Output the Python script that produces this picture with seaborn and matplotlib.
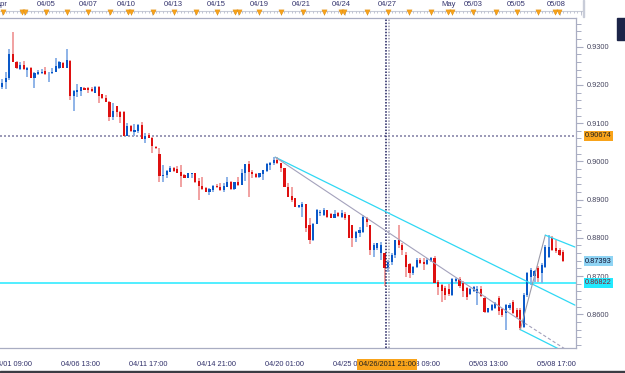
import numpy as np
import pandas as pd
import matplotlib
matplotlib.use("Agg")
import matplotlib.pyplot as plt
import seaborn as sns

# EUR/CHF-like 4h bars
opens = [
    .9195, .9208, .9218, .9281, .9260, .9242, .9252, .9239, .9244, .9218,
    .9229, .9231, .9236, .9231, .9231, .9234, .9244, .9257, .9244, .9263,
    .9171, .9182, .9184, .9192, .9192, .9189, .9179, .9195, .9176, .9166,
    .9155, .9116, .9145, .9129, .9129, .9066, .9093, .9077, .9080, .9095,
    .9059, .9069, .9061, .9038, .9019, .8962, .8964, .8972, .8983, .8980,
    .8972, .8964, .8957, .8967, .8970, .8949, .8936, .8930, .8920, .8925,
    .8936, .8933, .8925, .8933, .8946, .8928, .8946, .8938, .8970, .8993,
    .8972, .8967, .8959, .8967, .8975, .8991, .8996, .9004, .8996, .8983,
    .8933, .8910, .8904, .8881, .8881, .8889, .8834, .8794, .8836, .8865,
    .8860, .8873, .8862, .8852, .8865, .8855, .8862, .8860, .8834, .8800,
    .8813, .8815, .8852, .8834, .8768, .8773, .8760, .8760, .8721, .8737,
    .8755, .8794, .8781, .8755, .8732, .8708, .8724, .8742, .8737, .8731,
    .8739, .8747, .8685, .8677, .8669, .8666, .8651, .8687, .8692, .8682,
    .8669, .8653, .8661, .8656, .8666, .8643, .8606, .8611, .8616, .8643,
    .8614, .8603, .8616, .8632, .8611, .8611, .8567, .8651, .8698, .8700,
    .8721, .8708, .8724, .8750, .8800, .8773, .8768, .8763,
]
highs = [
    .9216, .9234, .9294, .9338, .9263, .9260, .9263, .9247, .9247, .9234,
    .9239, .9242, .9247, .9234, .9244, .9271, .9263, .9260, .9294, .9265,
    .9187, .9202, .9195, .9195, .9195, .9195, .9197, .9197, .9176, .9174,
    .9158, .9153, .9145, .9132, .9132, .9100, .9095, .9098, .9098, .9103,
    .9074, .9074, .9064, .9040, .9035, .8991, .8978, .8988, .8985, .8988,
    .8991, .8967, .8970, .8970, .8970, .8957, .8959, .8933, .8930, .8938,
    .8941, .8944, .8944, .8959, .8949, .8946, .8959, .8980, .8993, .9001,
    .8978, .8970, .8970, .8978, .8996, .8998, .9011, .9011, .8996, .8983,
    .8944, .8933, .8904, .8886, .8894, .8889, .8852, .8839, .8875, .8873,
    .8878, .8873, .8865, .8873, .8868, .8873, .8868, .8860, .8834, .8818,
    .8828, .8860, .8855, .8834, .8786, .8786, .8789, .8760, .8742, .8760,
    .8794, .8834, .8786, .8763, .8734, .8726, .8747, .8747, .8747, .8747,
    .8750, .8752, .8690, .8680, .8674, .8679, .8695, .8695, .8697, .8687,
    .8672, .8669, .8674, .8674, .8674, .8648, .8616, .8627, .8632, .8648,
    .8616, .8627, .8629, .8637, .8616, .8616, .8656, .8711, .8721, .8716,
    .8726, .8734, .8780, .8807, .8805, .8794, .8773, .8768,
]
lows = [
    .9189, .9189, .9213, .9260, .9242, .9239, .9239, .9221, .9218, .9192,
    .9226, .9229, .9226, .9208, .9229, .9234, .9242, .9244, .9244, .9161,
    .9132, .9168, .9171, .9187, .9179, .9182, .9179, .9153, .9163, .9155,
    .9106, .9108, .9116, .9100, .9066, .9066, .9077, .9066, .9074, .9059,
    .9048, .9061, .9022, .9032, .8946, .8946, .8957, .8972, .8972, .8970,
    .8933, .8957, .8957, .8957, .8944, .8899, .8925, .8920, .8912, .8920,
    .8930, .8923, .8920, .8933, .8925, .8925, .8936, .8938, .8949, .8907,
    .8957, .8957, .8957, .8951, .8972, .8978, .8991, .8993, .8972, .8933,
    .8907, .8894, .8881, .8878, .8855, .8815, .8784, .8792, .8836, .8857,
    .8857, .8852, .8852, .8852, .8855, .8852, .8847, .8800, .8776, .8789,
    .8802, .8813, .8828, .8755, .8750, .8768, .8742, .8674, .8711, .8729,
    .8747, .8773, .8755, .8698, .8695, .8703, .8721, .8731, .8716, .8729,
    .8737, .8682, .8651, .8632, .8637, .8648, .8648, .8682, .8669, .8645,
    .8637, .8651, .8659, .8624, .8645, .8603, .8603, .8608, .8614, .8598,
    .8593, .8559, .8611, .8601, .8590, .8559, .8564, .8645, .8677, .8685,
    .8685, .8682, .8721, .8747, .8766, .8760, .8752, .8737,
]
closes = [
    .9205, .9218, .9281, .9260, .9244, .9252, .9242, .9244, .9218, .9231,
    .9234, .9234, .9229, .9232, .9234, .9250, .9260, .9244, .9265, .9171,
    .9184, .9187, .9195, .9187, .9187, .9184, .9195, .9171, .9166, .9155,
    .9116, .9132, .9129, .9116, .9066, .9093, .9080, .9082, .9095, .9059,
    .9066, .9061, .9040, .9035, .8962, .8964, .8975, .8983, .8975, .8970,
    .8962, .8957, .8970, .8969, .8946, .8936, .8928, .8920, .8928, .8936,
    .8933, .8925, .8936, .8946, .8928, .8946, .8938, .8970, .8993, .8972,
    .8967, .8959, .8970, .8978, .8993, .8996, .9004, .8996, .8983, .8933,
    .8907, .8899, .8881, .8886, .8889, .8826, .8794, .8836, .8873, .8868,
    .8873, .8855, .8852, .8862, .8857, .8865, .8852, .8800, .8800, .8815,
    .8820, .8855, .8841, .8768, .8781, .8786, .8781, .8721, .8737, .8755,
    .8794, .8781, .8768, .8724, .8708, .8724, .8742, .8734, .8731, .8742,
    .8747, .8682, .8672, .8661, .8650, .8653, .8693, .8692, .8674, .8661,
    .8645, .8666, .8672, .8666, .8648, .8606, .8616, .8624, .8629, .8608,
    .8598, .8624, .8624, .8603, .8593, .8564, .8651, .8708, .8716, .8714,
    .8695, .8729, .8776, .8776, .8768, .8766, .8755, .87393,
]

# axis labels
bottom_ticks = [3, 22, 41, 60, 79, 98, 117, 136, 155]
bottom_labels = ["04/01 09:00", "04/06 13:00", "04/11 17:00", "04/14 21:00",
                 "04/20 01:00", "04/25 05:00", "04/28 09:00", "05/03 13:00",
                 "05/08 17:00"]
top_dates = ["Apr", "04/05", "04/07", "04/10", "04/13", "04/15", "04/19",
             "04/21", "04/24", "04/27", "May", "05/03", "05/05", "05/08"]
top_date_pos = [0.2, 12.2, 24.1, 34.8, 47.9, 59.8, 71.9, 83.8, 94.8, 107.9,
                124.9, 131.9, 144.0, 155.2]
event_bars = [0.1, 5.4, 6.4, 12.2, 18.0, 24.1, 30.2, 35.3, 36.0, 42.3, 48.1,
              54.1, 60.0, 65.2, 66.2, 71.9, 78.0, 84.1, 90.1, 94.8, 95.7,
              102.0, 107.9, 113.9, 119.9, 124.9, 125.8, 131.9, 138.1, 144.0,
              149.9, 154.7, 155.9]
price_ticks = [0.86, 0.87, 0.88, 0.89, 0.90, 0.91, 0.92, 0.93]

# drawn objects
hline_level = 0.90674
support_level = 0.86822
last_price = 0.87393
vline_bar = 107.7
vline_label = "04/26/2011 21:00"
trend_bars = [76.4, 160.3]
trend_prices = [0.9011, 0.8624]
gray_bars = [76.4, 144.9]
gray_prices = [0.9011, 0.8585]
gray_dash_bars = [144.9, 158.9]
gray_dash_prices = [0.8585, 0.8501]
fib_bars = [145.0, 152.0]
fib_prices = [0.8559, 0.8807]
chan_top_bars = [152.0, 160.3]
chan_top_prices = [0.8807, 0.8776]
chan_low_bars = [145.2, 160.3]
chan_low_prices = [0.8559, 0.8488]

df = pd.DataFrame({"open": opens, "high": highs, "low": lows, "close": closes})
df["bar"] = np.arange(len(df))
df["up"] = df["close"] >= df["open"]

sns.set_theme(style="white")
plt.rcParams["font.family"] = ["Liberation Sans", "DejaVu Sans"]

W, H = 625, 373
fig = plt.figure(figsize=(W / 100, H / 100), dpi=100)
fig.patch.set_facecolor("white")

x0, x1 = -0.638, 160.6
ax = fig.add_axes([0, (H - 348) / H, 576 / W, 330 / H])
ax.set_xlim(x0, x1)
ax.set_ylim(0.85118, 0.93751)
ax.set_facecolor("white")

RED, RED_W = "#de1010", "#f09a9a"
BLUE, BLUE_W = "#0a58c8", "#86aee6"

up = df[df["up"]]
dn = df[~df["up"]]
ax.vlines(up["bar"], up["low"], up["high"], color=BLUE_W, lw=1.3, zorder=3)
ax.vlines(dn["bar"], dn["low"], dn["high"], color=RED_W, lw=1.3, zorder=3)
body_up = np.maximum(up["close"] - up["open"], 0.00012)
body_dn = np.maximum(dn["open"] - dn["close"], 0.00012)
ax.bar(up["bar"], body_up, bottom=up["open"], width=0.6, color=BLUE,
       linewidth=0, zorder=4)
ax.bar(dn["bar"], body_dn, bottom=dn["close"], width=0.6, color=RED,
       linewidth=0, zorder=4)

# horizontal / vertical markers
ax.axhline(hline_level, color="#8a88aa", lw=1.2, ls=(0, (1.2, 1.2)), zorder=2)
ax.axhline(support_level, color="#22eaff", lw=1.1, zorder=2)
ax.axvline(vline_bar - 0.3, color="#1c1c5c", lw=1.1, ls=(0, (1, 1)), zorder=5)
ax.axvline(vline_bar + 0.5, color="#9a9ab0", lw=1.1, ls=(0, (1, 1)), zorder=5)

# trend lines
cyan = "#2fd8f4"
sns.lineplot(x=trend_bars, y=trend_prices, ax=ax, color=cyan, lw=0.9, zorder=6)
sns.lineplot(x=gray_bars, y=gray_prices, ax=ax, color="#a4a2bc", lw=0.8, zorder=6)
sns.lineplot(x=gray_dash_bars, y=gray_dash_prices, ax=ax, color="#a4a2bc",
             lw=0.8, ls=(0, (3, 2)), zorder=6)
sns.lineplot(x=fib_bars, y=fib_prices, ax=ax, color="#9a9aa8", lw=0.8, zorder=6)
sns.lineplot(x=chan_top_bars, y=chan_top_prices, ax=ax, color=cyan, lw=0.9, zorder=6)
sns.lineplot(x=chan_low_bars, y=chan_low_prices, ax=ax, color=cyan, lw=0.9, zorder=6)

# spines and ticks
frame = "#a9adc2"
ax.spines["left"].set_visible(False)
for s in ["top", "right", "bottom"]:
    ax.spines[s].set_color(frame)
    ax.spines[s].set_linewidth(0.9)
ax.yaxis.tick_right()
ax.set_yticks(price_ticks)
ax.set_yticklabels([f"{p:.4f}" for p in price_ticks])
ax.set_yticks(np.arange(0.852, 0.9375, 0.002), minor=True)
ax.tick_params(axis="y", which="major", direction="out", length=5, width=0.8,
               color=frame, pad=2.5, labelsize=5.3, labelcolor="#45455e")
ax.tick_params(axis="y", which="minor", direction="out", length=3.5, width=0.7,
               color=frame)
ax.set_xticks(bottom_ticks)
ax.set_xticklabels(bottom_labels)
ax.set_xticks(np.arange(3, 161, 19 / 6), minor=True)
ax.tick_params(axis="x", which="major", direction="out", length=6, width=0.8,
               color=frame, pad=3.5, labelsize=5.3, labelcolor="#30306a")
ax.tick_params(axis="x", which="minor", direction="out", length=3, width=0.7,
               color=frame)
ax.set_xlabel("")
ax.set_ylabel("")

# price boxes on the right scale
ytr = ax.get_yaxis_transform()
box_x = 1 + 9 / 576
ax.text(box_x, hline_level, f"{hline_level:.5f}", transform=ytr, ha="left",
        va="center", fontsize=5.3, color="#202020", clip_on=False, zorder=10,
        bbox=dict(boxstyle="square,pad=0.2", fc="#f8a31a", ec="none"))
ax.text(box_x, last_price, f"{last_price:.5f}", transform=ytr, ha="left",
        va="center", fontsize=5.3, color="#101030", clip_on=False, zorder=10,
        bbox=dict(boxstyle="square,pad=0.2", fc="#8fd4f4", ec="none"))
ax.text(box_x, support_level, f"{support_level:.5f}", transform=ytr, ha="left",
        va="center", fontsize=5.3, color="#8a1a2a", clip_on=False, zorder=10,
        bbox=dict(boxstyle="square,pad=0.2", fc="#22eaff", ec="none"))

# time label of the vertical line
xtr = ax.get_xaxis_transform()
ax.text(vline_bar, -16.5 / 330, vline_label, transform=xtr, ha="center",
        va="center", fontsize=5.3, color="#202020", clip_on=False, zorder=10,
        bbox=dict(boxstyle="square,pad=0.25", fc="#f8a31a", ec="none"))

# top strip with dates and event flags
axt = fig.add_axes([0, (H - 17) / H, 583 / W, 17 / H])
axt.set_xlim(x0, (583 - 2.28) / 3.572)
axt.set_ylim(17, 0)
axt.axis("off")
axt.axhline(10.5, color="#c8ccd8", lw=0.8)
axt.vlines(np.arange(0, 163), 10.5, 13, color="#b8bccc", lw=0.6)
axt.vlines(np.arange(0, 163, 6), 10.5, 14.5, color="#b8bccc", lw=0.6)
sns.scatterplot(x=event_bars, y=[12.2] * len(event_bars), ax=axt, marker="v",
                s=14, color="#f7a21b", edgecolor="#e08a00", linewidth=0.3,
                zorder=5, legend=False)
for lab, pos in zip(top_dates, top_date_pos):
    ha = "right" if lab == "Apr" else "center"
    xx = pos + 1.5 if lab == "Apr" else pos
    axt.text(xx, 5, lab, ha=ha, va="center", fontsize=5.5, color="#34346e")

# window chrome bits
fig.patches.append(plt.Rectangle((583 / W, 18 / H * 0 + (H - 17) / H), 0.8 / W, 17 / H,
                                 transform=fig.transFigure, color="#c8ccd8"))
fig.patches.append(plt.Rectangle((0, 0), 1, 1.6 / H, transform=fig.transFigure,
                                 color="#3c3c44"))
fig.patches.append(plt.Rectangle((617 / W, (H - 40) / H), 8 / W, 22 / H,
                                 transform=fig.transFigure, color="#1c2448"))

fig.savefig("out.png", dpi=100)
